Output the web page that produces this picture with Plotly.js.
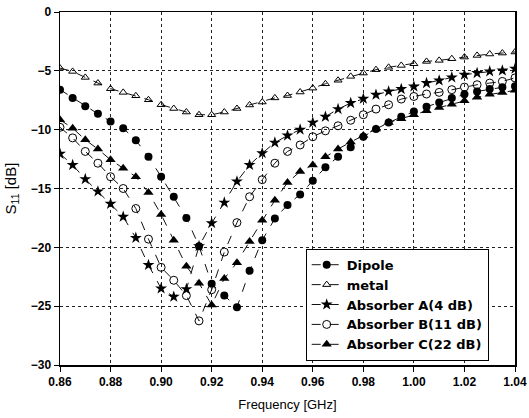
<!DOCTYPE html>
<html>
<head>
<meta charset="utf-8">
<script src="https://cdn.plot.ly/plotly-3.0.1.min.js"></script>
<style>html,body{margin:0;padding:0;background:#fff;}#chart{width:529px;height:418px;}</style>
</head>
<body>
<div id="chart"></div>
<script>
const freq = [0.860,0.865,0.870,0.875,0.880,0.885,0.890,0.895,0.900,0.905,0.910,0.915,0.920,0.925,0.930,0.935,0.940,0.945,0.950,0.955,0.960,0.965,0.970,0.975,0.980,0.985,0.990,0.995,1.000,1.005,1.010,1.015,1.020,1.025,1.030,1.035,1.040];
const dipole = [-6.6,-7.3,-8.0,-8.65,-9.3,-9.87,-10.9,-12.3,-14.0,-15.7,-17.5,-19.9,-23.1,-24.1,-25.1,-22.0,-19.4,-17.55,-16.4,-15.5,-14.35,-13.2,-12.3,-11.5,-10.6,-9.95,-9.4,-8.9,-8.45,-8.05,-7.7,-7.3,-7.0,-6.75,-6.55,-6.4,-6.3];
const metal = [-4.77,-5.05,-5.56,-6.04,-6.52,-6.83,-7.12,-7.46,-7.88,-8.2,-8.5,-8.73,-8.73,-8.5,-8.2,-7.9,-7.65,-7.3,-7.1,-6.8,-6.47,-6.1,-5.8,-5.47,-5.19,-4.9,-4.7,-4.54,-4.4,-4.2,-4.11,-3.97,-3.83,-3.69,-3.57,-3.49,-3.4];
const absorberA = [-12.05,-13.0,-14.2,-15.25,-16.3,-17.4,-19.2,-21.5,-23.5,-24.2,-23.55,-19.9,-17.95,-16.2,-14.4,-13.0,-12.0,-11.1,-10.5,-10.0,-9.4,-8.9,-8.25,-7.74,-7.37,-7.03,-6.75,-6.55,-6.33,-6.04,-5.82,-5.56,-5.33,-5.19,-5.05,-4.97,-4.82];
const absorberB = [-9.8,-10.7,-11.85,-12.85,-14.0,-15.0,-16.7,-19.3,-21.7,-22.8,-24.1,-26.25,-23.6,-20.4,-17.9,-15.7,-14.25,-12.85,-11.85,-11.3,-10.6,-10.1,-9.67,-9.2,-8.73,-8.25,-7.88,-7.4,-7.18,-6.97,-6.83,-6.6,-6.38,-6.18,-6.04,-5.9,-5.6];
const absorberC = [-9.16,-9.87,-10.86,-11.65,-12.56,-13.27,-14.0,-15.35,-17.2,-19.4,-21.6,-23.05,-24.9,-22.65,-21.3,-19.5,-17.7,-16.0,-14.5,-13.55,-13.0,-12.3,-11.65,-11.05,-10.5,-9.95,-9.4,-9.07,-8.73,-8.4,-8.12,-7.85,-7.55,-7.25,-7.0,-6.85,-6.65];
const names = ['Dipole','metal','Absorber A(4 dB)','Absorber B(11 dB)','Absorber C(22 dB)'];
const xTicks = [0.86,0.88,0.90,0.92,0.94,0.96,0.98,1.00,1.02,1.04];
const xTickText = ['0.86','0.88','0.90','0.92','0.94','0.96','0.98','1.00','1.02','1.04'];
const yTicks = [0,-5,-10,-15,-20,-25,-30];

const series = [dipole, metal, absorberA, absorberB, absorberC];
const markers = [
  {symbol:'circle', size:8, color:'#000'},
  {symbol:'triangle-up-open', size:7, color:'#000', line:{width:1,color:'#000'}},
  {symbol:'star', size:9, color:'#000', line:{width:0}},
  {symbol:'circle-open', size:8, color:'#000', line:{width:1,color:'#000'}},
  {symbol:'triangle-up', size:9, color:'#000', line:{width:0}}
];
const traces = series.map((ys,i)=>({
  x: freq, y: ys, name: names[i], type:'scatter', mode:'lines+markers',
  line:{color:'#111', width:1, dash:'dash'},
  marker: markers[i]
}));

const layout = {
  width:529, height:418,
  margin:{l:60, r:14, t:12, b:53},
  paper_bgcolor:'#fff', plot_bgcolor:'#fff',
  font:{family:'Liberation Sans, Arial, sans-serif', color:'#000'},
  xaxis:{
    range:[0.86,1.04], tickvals:xTicks, ticktext:xTickText,
    tickfont:{size:12, weight:'bold'}, ticklabeloverflow:'allow',
    ticks:'outside', ticklen:5, tickcolor:'#000',
    showline:true, linecolor:'#000', linewidth:1.5, mirror:true,
    showgrid:true, gridcolor:'#222', griddash:'dot', gridwidth:1,
    zeroline:false, automargin:false,
    title:{text:'Frequency [GHz]', font:{size:13}, standoff:12}
  },
  yaxis:{
    range:[-30,0], tickvals:yTicks,
    tickfont:{size:12, weight:'bold'},
    ticks:'outside', ticklen:5, tickcolor:'#000',
    showline:true, linecolor:'#000', linewidth:1.5, mirror:true,
    showgrid:true, gridcolor:'#222', griddash:'dot', gridwidth:1,
    zeroline:false, automargin:false,
    title:{text:'S<sub>11</sub> [dB]', font:{size:15}, standoff:10}
  },
  showlegend:true,
  legend:{
    x:0.54, y:0.012, xanchor:'left', yanchor:'bottom',
    bgcolor:'#fff', bordercolor:'#000', borderwidth:1,
    font:{family:'DejaVu Sans, sans-serif', size:13, weight:'bold'}, itemwidth:30
  }
};
Plotly.newPlot('chart', traces, layout, {displayModeBar:false, staticPlot:true});
</script>
</body>
</html>
